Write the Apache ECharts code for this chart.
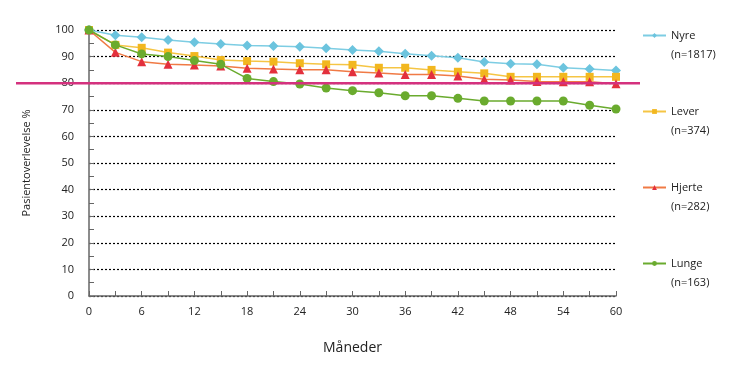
<!DOCTYPE html>
<html>
<head>
<meta charset="utf-8">
<script src="https://cdn.jsdelivr.net/npm/echarts@6/dist/echarts.min.js"></script>
<style>
html,body{margin:0;padding:0;background:#fff;}
#c{width:730px;height:375px;}
</style>
</head>
<body>
<div id="c"></div>
<script>
var months = [0,3,6,9,12,15,18,21,24,27,30,33,36,39,42,45,48,51,54,57,60];
var nyre   = [100,98.0,97.3,96.2,95.4,94.7,94.2,94.0,93.7,93.1,92.5,92.0,91.1,90.3,89.6,88.0,87.3,87.1,85.8,85.3,84.8];
var lever  = [100,94.4,93.3,91.5,90.2,88.7,88.3,88.1,87.5,87.1,86.9,85.8,85.8,85.0,84.3,83.7,82.4,82.4,82.4,82.4,82.4];
var hjerte = [100,91.6,88.1,87.1,86.8,86.5,85.6,85.3,85.1,85.1,84.3,83.8,83.3,83.3,82.7,81.5,81.2,80.6,80.5,80.5,79.8];
var lunge  = [100,94.4,91.0,90.0,88.5,87.1,81.8,80.6,79.7,78.2,77.2,76.4,75.3,75.3,74.3,73.3,73.3,73.3,73.3,71.7,70.3];
var seriesNames = ['Nyre','Lever','Hjerte','Lunge'];
var seriesN = ['(n=1817)','(n=374)','(n=282)','(n=163)'];
var referenceLevel = 80;

function pairs(vals){ return months.map(function(m,i){ return [m, vals[i]]; }); }

var FONT = '"Open Sans", "Noto Sans", sans-serif';
var chart = echarts.init(document.getElementById('c'), null, {renderer:'canvas'});

var styles = [
  {line:'#7dcde3', mark:'#6cc4de', symbol:'diamond', size:10},
  {line:'#f5c544', mark:'#f2b71f', symbol:'rect', size:8},
  {line:'#f07a45', mark:'#e3303d', symbol:'triangle', size:9},
  {line:'#6aab2e', mark:'#6aab2e', symbol:'circle', size:9}
];
var dataSets = [nyre, lever, hjerte, lunge];

var series = dataSets.map(function(d,i){
  return {
    name: seriesNames[i],
    type: 'line',
    xAxisIndex: 0, yAxisIndex: 0,
    data: pairs(d),
    symbol: styles[i].symbol,
    symbolSize: styles[i].size,
    lineStyle: {color: styles[i].line, width: 1.5},
    itemStyle: {color: styles[i].mark},
    emphasis: {disabled: true},
    animation: false,
    z: 3 + i
  };
});
series.push({
  name: 'ref',
  type: 'line',
  xAxisIndex: 1, yAxisIndex: 1,
  data: [[0, referenceLevel],[1, referenceLevel]],
  symbol: 'none',
  lineStyle: {color: '#d4317e', width: 2.5},
  animation: false,
  silent: true,
  z: 10
});

chart.setOption({
  backgroundColor: '#fff',
  animation: false,
  textStyle: {fontFamily: FONT},
  grid: [
    {left: 89, right: 114, top: 30, bottom: 79},
    {left: 16, right: 90, top: 30, bottom: 79}
  ],
  legend: {
    orient: 'vertical',
    left: 637,
    top: 2,
    itemWidth: 23,
    itemHeight: 6,
    itemGap: 19,
    data: seriesNames,
    formatter: function(name){ return ' \n' + name + '\n' + seriesN[seriesNames.indexOf(name)]; },
    textStyle: {fontSize: 11, color: '#222', fontFamily: FONT, lineHeight: 19}
  },
  xAxis: [{
    type: 'value', gridIndex: 0,
    min: 0, max: 60, interval: 3,
    name: 'Måneder', nameLocation: 'middle', nameGap: 45,
    nameTextStyle: {fontSize: 14, color: '#222', fontFamily: FONT},
    axisLine: {show: true, lineStyle: {color: '#666', width: 1.5}},
    axisTick: {show: true, inside: true, length: 5, lineStyle: {color: '#666'}},
    axisLabel: {margin: 10, fontSize: 11, color: '#222', fontFamily: FONT,
      formatter: function(v){ return v % 6 === 0 ? String(v) : ''; }},
    splitLine: {show: false}
  },{
    type: 'value', gridIndex: 1, min: 0, max: 1, show: false
  }],
  yAxis: [{
    type: 'value', gridIndex: 0,
    min: 0, max: 100, interval: 10,
    name: 'Pasientoverlevelse %', nameLocation: 'middle', nameGap: 57, nameRotate: 90,
    nameTextStyle: {fontSize: 11, color: '#222', fontFamily: FONT},
    axisLine: {show: true, lineStyle: {color: '#666', width: 1.5}},
    axisTick: {show: true, inside: true, length: 5, lineStyle: {color: '#666'}},
    minorTick: {show: true, splitNumber: 2, length: 5, lineStyle: {color: '#666'}},
    axisLabel: {margin: 15, fontSize: 11, color: '#222', fontFamily: FONT},
    splitLine: {show: true, lineStyle: {color: '#000', type: [2,2], width: 1.2}}
  },{
    type: 'value', gridIndex: 1, min: 0, max: 100, show: false
  }],
  series: series
});
</script>
</body>
</html>
